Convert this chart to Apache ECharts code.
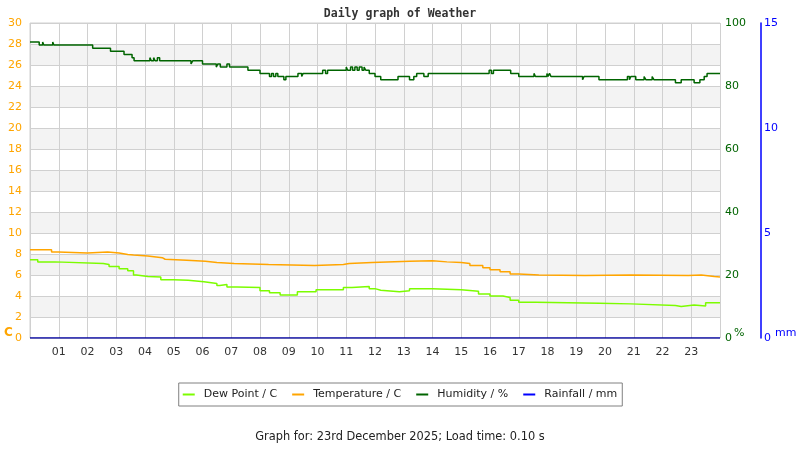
<!DOCTYPE html>
<html>
<head>
<meta charset="utf-8">
<script src="https://cdn.jsdelivr.net/npm/echarts@6/dist/echarts.min.js"></script>
<style>html,body{margin:0;padding:0;background:#fff;}#c{width:800px;height:450px;}</style>
</head>
<body>
<div id="c"></div>
<script>
const hourTicks = ['01','02','03','04','05','06','07','08','09','10','11','12','13','14','15','16','17','18','19','20','21','22','23'];

const humTimes = [0,0.32,0.44,0.48,0.79,0.83,2.18,2.8,3.27,3.55,3.62,4.17,4.22,4.3,4.35,4.43,4.51,5.6,5.66,6.0,6.48,6.53,6.62,6.85,6.94,7.58,8.0,8.33,8.4,8.47,8.55,8.62,8.83,8.9,9.32,9.45,9.5,10.18,10.28,10.35,11.0,11.05,11.15,11.22,11.3,11.38,11.45,11.55,11.62,11.68,11.8,12.0,12.2,12.8,13.2,13.35,13.45,13.7,13.85,15.97,16.05,16.12,16.72,17.0,17.53,17.58,17.98,18.02,18.07,18.12,19.22,19.27,19.79,20.78,20.85,20.9,21.07,21.36,21.42,21.64,21.7,22.45,22.65,23.1,23.3,23.45,23.55,24];
const humValues = [94,93,94,93,94,93,92,91,90,89,88,89,88,89,88,89,88,87,88,87,86,87,86,87,86,85,84,83,84,83,84,83,82,83,84,83,84,85,84,85,86,85,86,85,86,85,86,85,86,85,84,83,82,83,82,83,84,83,84,85,84,85,84,83,84,83,84,83,84,83,82,83,82,83,82,83,82,83,82,83,82,81,82,81,82,83,84,84];

const tempTimes = [0,0.75,0.98,2.0,2.7,3.1,3.4,3.6,4.1,4.6,4.7,5.45,6.1,6.5,7.1,8.3,9.9,10.9,11.1,11.9,13.2,14.0,14.5,15.0,15.3,15.75,16.0,16.35,16.7,17.0,17.7,19.3,20.9,22.9,23.35,23.8,24];
const tempValues = [8.4,8.2,8.1,8.2,8.1,7.95,7.9,7.8,7.65,7.5,7.4,7.3,7.2,7.1,7.0,6.9,7.0,7.1,7.2,7.3,7.35,7.25,7.2,7.1,6.9,6.7,6.5,6.3,6.1,6.0,5.95,6.0,5.95,6.0,5.85,5.8,5.8];

const dewTimes = [0,0.27,0.87,2.55,2.75,3.1,3.4,3.6,3.7,4.1,4.55,5.0,5.5,6.05,6.5,6.6,6.85,7.2,8.0,8.33,8.7,9.3,9.95,10.9,11.2,11.8,12.0,12.2,12.85,13.2,14.0,15.0,15.6,16.0,16.45,16.7,17.0,17.6,19.8,20.9,22.45,22.65,23.1,23.5,24];
const dewValues = [7.45,7.25,7.1,7.0,6.8,6.6,6.4,6.0,5.85,5.8,5.55,5.5,5.35,5.2,5.0,5.1,4.85,4.8,4.5,4.3,4.1,4.4,4.6,4.8,4.9,4.7,4.55,4.4,4.5,4.7,4.6,4.45,4.2,4.0,3.85,3.6,3.4,3.3,3.25,3.1,3.0,3.15,3.05,3.35,3.3];

const rainTimes = [0,24];
const rainValues = [0,0];

function pairs(t, v){ return t.map((x,i)=>[x, v[i]]); }

const chart = echarts.init(document.getElementById('c'));
const font = 'DejaVu Sans';
chart.setOption({
  animation: false,
  backgroundColor: '#fff',
  title: {
    text: 'Daily graph of Weather',
    left: 'center', top: 3,
    textStyle: {fontFamily: 'DejaVu Sans Mono', fontWeight: 'bold', fontSize: 11.5, color: '#333'}
  },
  grid: {left: 30, right: 80, top: 23, bottom: 112, show: true, borderColor: '#d0d0d0', borderWidth: 1, backgroundColor: 'transparent'},
  legend: {
    left: 'center', top: 383,
    borderColor: '#808080', borderWidth: 1, padding: [6, 5, 6, 4],
    itemWidth: 12, itemHeight: 2, itemGap: 15,
    icon: 'rect',
    textStyle: {fontFamily: font, fontSize: 11, color: '#222', padding: [0, 0, 0, 4]},
    data: ['Dew Point / C','Temperature / C','Humidity / %','Rainfall / mm']
  },
  xAxis: {
    type: 'value', min: 0, max: 24, interval: 1,
    axisLine: {show: false}, axisTick: {show: false},
    axisLabel: {
      margin: 9, color: '#333', fontFamily: font, fontSize: 11,
      formatter: v => (v >= 1 && v <= 23) ? hourTicks[v-1] : ''
    },
    splitLine: {show: true, lineStyle: {color: '#d0d0d0', width: 1}}
  },
  yAxis: [
    {
      type: 'value', min: 0, max: 30, interval: 2, position: 'left',
      axisLine: {show: false}, axisTick: {show: false},
      axisLabel: {margin: 8, color: '#ffa500', fontFamily: font, fontSize: 11},
      splitLine: {show: true, lineStyle: {color: '#d0d0d0'}},
      splitArea: {show: true, areaStyle: {color: ['#ffffff', '#f3f3f3']}}
    },
    {
      type: 'value', min: 0, max: 100, interval: 20, position: 'right',
      axisLine: {show: false}, axisTick: {show: false},
      axisLabel: {margin: 5, color: '#006400', fontFamily: font, fontSize: 11},
      splitLine: {show: false}
    },
    {
      type: 'value', min: 0, max: 15, interval: 5, position: 'right', offset: 41,
      axisLine: {show: true, lineStyle: {color: '#0000ff', width: 1.5}}, axisTick: {show: false},
      axisLabel: {margin: 3, color: '#0000ff', fontFamily: font, fontSize: 11},
      splitLine: {show: false}
    }
  ],
  graphic: [
    {type: 'text', left: 4, top: 327, style: {text: 'C', fill: '#ffa500', font: 'bold 12px "DejaVu Sans"'}},
    {type: 'text', left: 734, top: 328, style: {text: '%', fill: '#006400', font: '11px "DejaVu Sans"'}},
    {type: 'text', left: 775, top: 328, style: {text: 'mm', fill: '#0000ff', font: '11px "DejaVu Sans"'}},
    {type: 'text', left: 'center', top: 432, style: {text: 'Graph for: 23rd December 2025; Load time: 0.10 s', fill: '#222', font: '11.4px "DejaVu Sans"'}}
  ],
  series: [
    {name: 'Dew Point / C', type: 'line', yAxisIndex: 0, step: 'end', showSymbol: false, symbol: 'none',
     itemStyle: {color: '#7cfc00'}, lineStyle: {color: '#7cfc00', width: 1.5}, data: pairs(dewTimes, dewValues), z: 3},
    {name: 'Temperature / C', type: 'line', yAxisIndex: 0, step: 'end', showSymbol: false, symbol: 'none',
     itemStyle: {color: '#ffa500'}, lineStyle: {color: '#ffa500', width: 1.5}, data: pairs(tempTimes, tempValues), z: 3},
    {name: 'Humidity / %', type: 'line', yAxisIndex: 1, step: 'end', showSymbol: false, symbol: 'none',
     itemStyle: {color: '#006400'}, lineStyle: {color: '#006400', width: 1.5}, data: pairs(humTimes, humValues), z: 3},
    {name: 'Rainfall / mm', type: 'line', yAxisIndex: 2, showSymbol: false, symbol: 'none',
     itemStyle: {color: '#0000ff'}, lineStyle: {color: '#0000a0', width: 1.5}, data: pairs(rainTimes, rainValues), z: 4}
  ]
});
</script>
</body>
</html>
